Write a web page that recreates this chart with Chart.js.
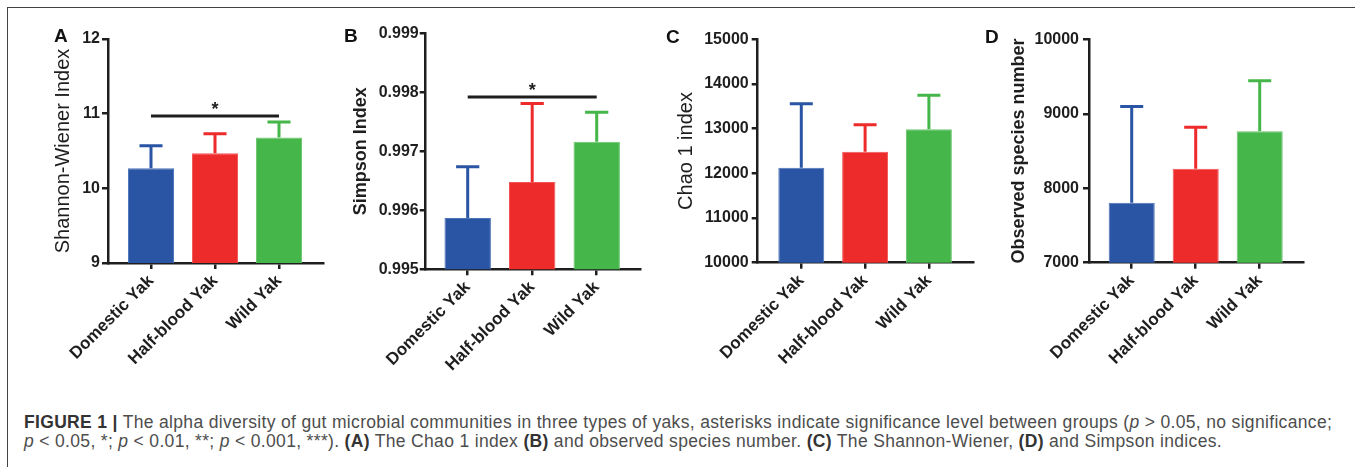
<!DOCTYPE html>
<html lang="en">
<head>
<meta charset="UTF-8">
<title>Alpha diversity of gut microbial communities in three types of yaks</title>
<script src="https://cdn.jsdelivr.net/npm/chart.js"></script>
<style>
  html, body { margin: 0; padding: 0; background: #fff; }
  body { width: 1355px; height: 467px; position: relative; overflow: hidden; font-family: "Liberation Sans", Arial, sans-serif; }
  .frame { position: absolute; left: 7px; top: 7px; width: 1400px; height: 500px; border-top: 1.5px solid #444; border-left: 1.5px solid #444; }
  .panel { position: absolute; top: 0; }
  .letter { position: absolute; font-weight: bold; font-size: 19px; line-height: 19px; color: #111; }
  .caption { position: absolute; left: 24px; top: 412.5px; font-size: 17.5px; letter-spacing: 0.33px; line-height: 19.5px; color: #4d4d4d; white-space: nowrap; }
  .caption b { color: #333; }
</style>
</head>
<body>
<div class="frame"></div>
<canvas id="panelA" class="panel" width="330" height="380" style="left:0px"></canvas>
<canvas id="panelB" class="panel" width="330" height="380" style="left:330px"></canvas>
<canvas id="panelC" class="panel" width="330" height="380" style="left:660px"></canvas>
<canvas id="panelD" class="panel" width="365" height="380" style="left:990px"></canvas>
<div class="letter" style="left:54px; top:26px">A</div>
<div class="letter" style="left:344px; top:26px">B</div>
<div class="letter" style="left:666px; top:27px">C</div>
<div class="letter" style="left:985px; top:27px">D</div>
<div class="caption">
  <b>FIGURE 1 |</b> The alpha diversity of gut microbial communities in three types of yaks, asterisks indicate significance level between groups (<i>p</i> &gt; 0.05, no significance;<br>
  <i>p</i> &lt; 0.05, *; <i>p</i> &lt; 0.01, **; <i>p</i> &lt; 0.001, ***). <b>(A)</b> The Chao 1 index <b>(B)</b> and observed species number. <b>(C)</b> The Shannon-Wiener, <b>(D)</b> and Simpson indices.
</div>

<script>
const categories = ['Domestic Yak', 'Half-blood Yak', 'Wild Yak'];
const barColors = ['#2a55a4', '#ee2b2b', '#45b649'];
const edgeColors = ['#4d74b8', '#f25656', '#6cc56f'];

// A - Shannon-Wiener
const shannonMean = [10.27, 10.47, 10.68];
const shannonSd = [0.30, 0.26, 0.21];
const shannonTicks = [9, 10, 11, 12];
const shannonSig = [0, 2, 10.97];   // from group, to group, bar height

// B - Simpson
const simpsonMean = [0.99587, 0.99648, 0.99716];
const simpsonSd = [0.00087, 0.00133, 0.00050];
const simpsonTicks = [0.995, 0.996, 0.997, 0.998, 0.999];
const simpsonSig = [0, 2, 0.99792];

// C - Chao 1
const chaoMean = [12127, 12485, 12985];
const chaoSd = [1430, 600, 760];
const chaoTicks = [10000, 11000, 12000, 13000, 14000, 15000];

// D - observed species
const observedMean = [7806, 8262, 8764];
const observedSd = [1290, 556, 680];
const observedTicks = [7000, 8000, 9000, 10000];

const FONT = '"Liberation Sans", Arial, sans-serif';
const INK = '#1e1e1e';

// error bars (upper only) and significance line
const errorBars = {
    id: 'errorBars',
    afterDatasetsDraw(chart, args, opts) {
        const ctx = chart.ctx;
        const xs = chart.scales.x, ys = chart.scales.y;
        const meta = chart.getDatasetMeta(0);
        ctx.save();
        ctx.lineWidth = 3;
        ctx.lineCap = 'butt';
        meta.data.forEach((bar, i) => {
            const top = ys.getPixelForValue(opts.mean[i] + opts.sd[i]);
            const half = bar.width / 4;
            ctx.strokeStyle = barColors[i];
            ctx.beginPath();
            ctx.moveTo(bar.x, bar.y);
            ctx.lineTo(bar.x, top - 1.5);
            ctx.moveTo(bar.x - half, top);
            ctx.lineTo(bar.x + half, top);
            ctx.stroke();
        });
        if (opts.sig) {
            const x1 = xs.getPixelForValue(opts.sig[0]);
            const x2 = xs.getPixelForValue(opts.sig[1]);
            const y = ys.getPixelForValue(opts.sig[2]);
            ctx.strokeStyle = INK;
            ctx.beginPath();
            ctx.moveTo(x1, y);
            ctx.lineTo(x2, y);
            ctx.stroke();
            ctx.fillStyle = INK;
            ctx.font = 'bold 18px ' + FONT;
            ctx.textAlign = 'center';
            ctx.textBaseline = 'alphabetic';
            ctx.fillText('*', (x1 + x2) / 2, y - 1);
        }
        ctx.restore();
    }
};

function drawPanel(p) {
    const step = p.step;
    const xMin = (p.axisX - p.tick0) / step;
    const xMax = (p.xEnd - p.tick0) / step;
    const lh = p.titleSize * 1.2;
    new Chart(document.getElementById(p.id), {
        type: 'bar',
        data: {
            datasets: [{
                data: p.mean.map((v, i) => ({ x: i, y: v })),
                backgroundColor: barColors,
                borderColor: edgeColors,
                borderWidth: 1
            }]
        },
        options: {
            responsive: false,
            animation: false,
            events: [],
            layout: { padding: { left: 0, top: p.top, right: p.width - (p.xEnd - p.left), bottom: 0 } },
            datasets: { bar: { barPercentage: 0.72, categoryPercentage: 1 } },
            plugins: {
                legend: { display: false },
                tooltip: { enabled: false },
                errorBars: { mean: p.mean, sd: p.sd, sig: p.sig }
            },
            scales: {
                x: {
                    type: 'linear',
                    min: xMin,
                    max: xMax,
                    offset: false,
                    afterBuildTicks: s => { s.ticks = categories.map((c, i) => ({ value: i })); },
                    afterFit: s => { s.height = p.height - p.bottom; s.paddingLeft = 0; s.paddingRight = 0; },
                    ticks: {
                        autoSkip: false, minRotation: 45, maxRotation: 45, padding: 2,
                        color: INK, font: { family: FONT, size: 17, weight: 'bold' },
                        callback: v => categories[v]
                    },
                    grid: { offset: false, drawOnChartArea: false, drawTicks: true, tickLength: 6, color: INK, lineWidth: 2.5 },
                    border: { color: INK, width: 2.5 }
                },
                y: {
                    min: p.ticks[0],
                    max: p.ticks[p.ticks.length - 1],
                    afterBuildTicks: s => { s.ticks = p.ticks.map(v => ({ value: v })); },
                    afterFit: s => { s.width = p.axisX - p.left; s.paddingTop = 0; s.paddingBottom = 0; },
                    ticks: {
                        padding: p.tickPad, color: INK,
                        font: { family: FONT, size: 16, weight: 'bold' },
                        callback: v => v.toFixed(p.decimals)
                    },
                    grid: { drawOnChartArea: false, drawTicks: true, tickLength: 6, color: INK, lineWidth: 2.5 },
                    border: { color: INK, width: 2.5 },
                    title: {
                        display: true, text: p.title, color: INK,
                        font: { family: FONT, size: p.titleSize, weight: p.titleWeight, lineHeight: 1.2 },
                        padding: { top: p.titleX - p.left - lh / 2, bottom: 0 }
                    }
                }
            }
        },
        plugins: [errorBars]
    });
}

drawPanel({ id: 'panelA', left: 0, width: 330, height: 380, axisX: 108, top: 39, bottom: 263, xEnd: 323,
    tick0: 151, step: 64, tickPad: 2, titleX: 63, title: 'Shannon-Wiener Index', titleSize: 20, titleWeight: 'normal',
    mean: shannonMean, sd: shannonSd, ticks: shannonTicks, decimals: 0, sig: shannonSig });
drawPanel({ id: 'panelB', left: 330, width: 330, height: 380, axisX: 425.7, top: 33.3, bottom: 269.3, xEnd: 640.7,
    tick0: 467.7, step: 64.5, tickPad: 1, titleX: 361, title: 'Simpson Index', titleSize: 18, titleWeight: 'bold',
    mean: simpsonMean, sd: simpsonSd, ticks: simpsonTicks, decimals: 3, sig: simpsonSig });
drawPanel({ id: 'panelC', left: 660, width: 330, height: 380, axisX: 757.7, top: 39.3, bottom: 262.7, xEnd: 973.3,
    tick0: 801.3, step: 63.8, tickPad: 3, titleX: 686.7, title: 'Chao 1 index', titleSize: 20, titleWeight: 'normal',
    mean: chaoMean, sd: chaoSd, ticks: chaoTicks, decimals: 0, sig: null });
drawPanel({ id: 'panelD', left: 990, width: 365, height: 380, axisX: 1089, top: 39.3, bottom: 262.7, xEnd: 1303.3,
    tick0: 1131.7, step: 64, tickPad: 4, titleX: 1019.3, title: 'Observed species number', titleSize: 18, titleWeight: 'bold',
    mean: observedMean, sd: observedSd, ticks: observedTicks, decimals: 0, sig: null });
</script>
</body>
</html>
